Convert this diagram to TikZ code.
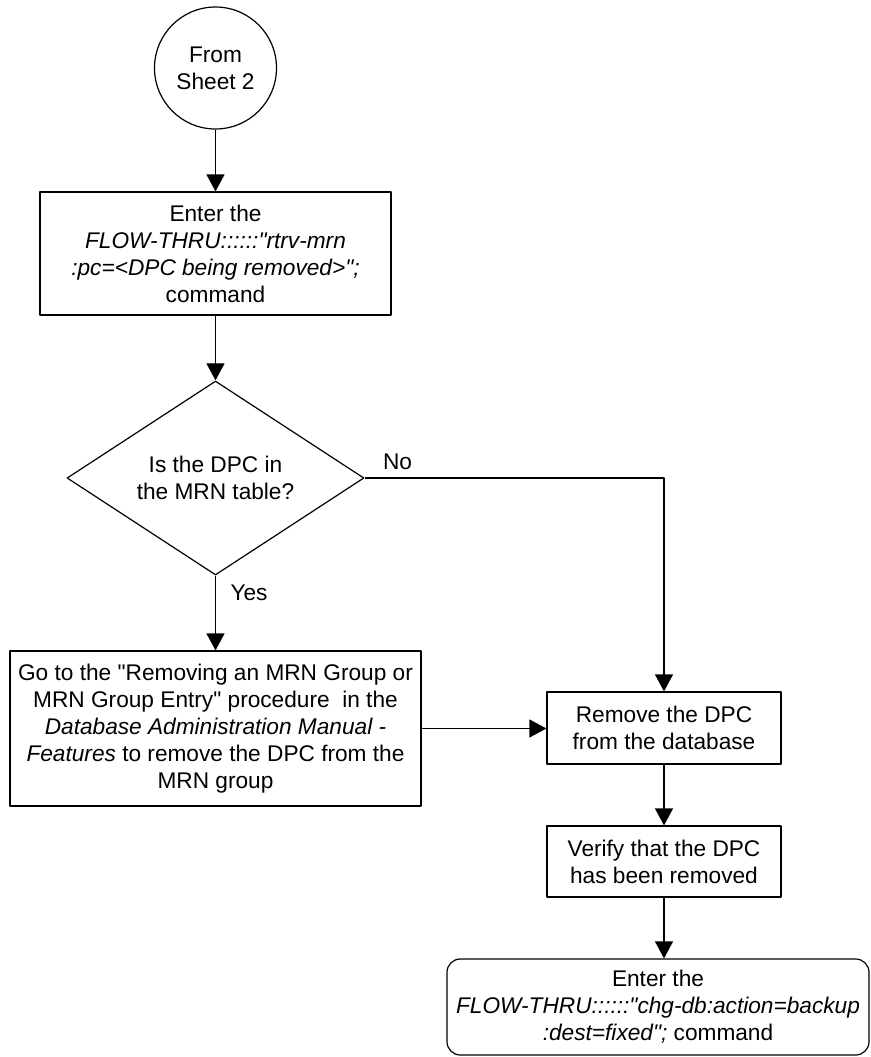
\documentclass[tikz,border=0pt]{standalone}
\usepackage{fontspec}
\setmainfont{Liberation Sans}[Ligatures=TeXOff]
\usetikzlibrary{arrows.meta,positioning,calc,shapes.geometric}

\begin{document}
\begin{tikzpicture}[x=0.75pt,y=-0.75pt,line join=round,
  every node/.style={font=\fontsize{17}{20.25}\selectfont,align=center,inner sep=0pt},
  arr/.style={line width=0.9pt,-{Triangle[length=12.75pt,width=13.5pt]}},
  procbox/.style={draw,line width=0.9pt,rectangle},
  decbox/.style={draw,line width=0.9pt,diamond,aspect=1.53,minimum width=222.75pt,minimum height=145.5pt},
  connbox/.style={draw,line width=0.9pt,circle,minimum size=91.5pt},
  endbox/.style={draw,line width=0.9pt,rectangle,rounded corners=10pt}]
\useasboundingbox (0,0) rectangle (871,1057);
\node[connbox] (start) at (215.5,68) {From\\Sheet 2};
\node[procbox,minimum width=263.25pt,minimum height=92.25pt] (enter1) at (215.5,253.5)
  {Enter the\\ \textit{FLOW-THRU::::::"rtrv-mrn}\\ \textit{:pc=<DPC being removed>";}\\ command};
\node[decbox] (dec) at (215.5,478) {Is the DPC in\\the MRN table?};
\node (lblno) at (397.5,462) {No};
\node (lblyes) at (249,593) {Yes};
\node[procbox,minimum width=308.25pt,minimum height=116.25pt] (goto) at (215.5,728.5)
  {Go to the "Removing an MRN Group or\\ MRN Group Entry" procedure~ in the\\
   \textit{Database Administration Manual -}\\ \textit{Features} to remove the DPC from the\\ MRN group};
\node[procbox,minimum width=175.5pt,minimum height=54pt] (remove) at (664,728) {Remove the DPC\\from the database};
\node[procbox,minimum width=175.5pt,minimum height=53.25pt] (verify) at (664,861.5) {Verify that the DPC\\has been removed};
\node[endbox,minimum width=316.5pt,minimum height=72pt] (final) at (658,1007)
  {Enter the\\ \textit{FLOW-THRU::::::"chg-db:action=backup}\\ \textit{:dest=fixed";} command};
\foreach \a/\b in {start/enter1,enter1/dec,dec/goto,remove/verify} {\draw[arr] (\a)--(\b);}
\draw[arr] (dec.east) -| (remove.north);
\draw[arr] (goto.east) -- (goto.east -| remove.west);
\draw[arr] (verify.south) -- (verify.south |- final.north);
\end{tikzpicture}
\end{document}
